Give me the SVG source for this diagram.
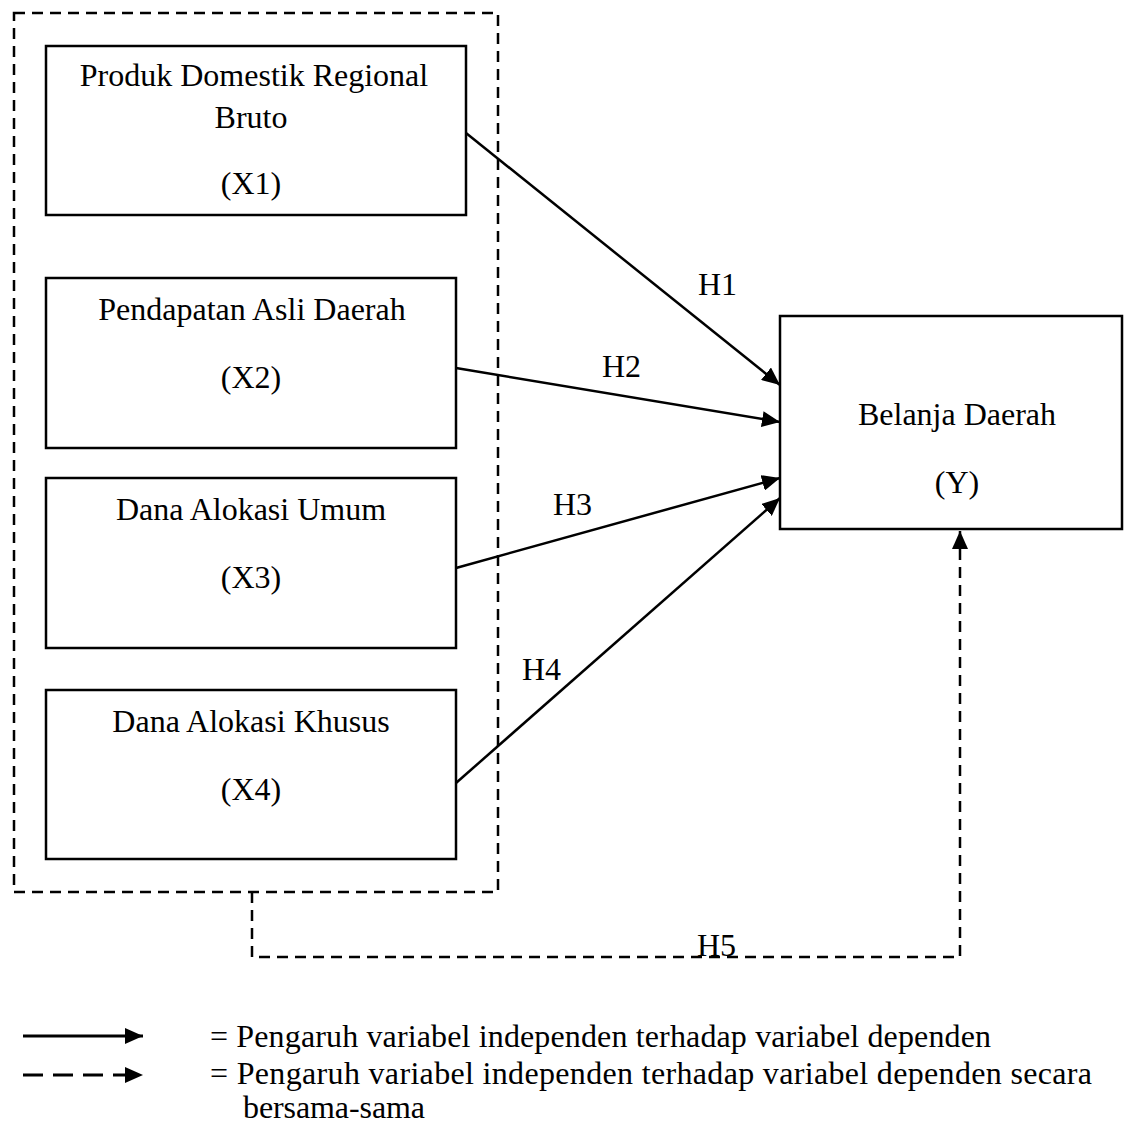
<svg xmlns="http://www.w3.org/2000/svg" width="1124" height="1127" viewBox="0 0 1124 1127">
<style>
.box{fill:#fff;stroke:#000;stroke-width:2.5}
.dash{fill:none;stroke:#000;stroke-width:2.5;stroke-dasharray:11 7}
.ln{fill:none;stroke:#000;stroke-width:2.5}
.lg{fill:none;stroke:#000;stroke-width:3}
text{font-family:"Liberation Serif","Times New Roman",serif;font-size:32px;fill:#000}
.c{text-anchor:middle}
</style>
<defs>
<marker id="ah" markerUnits="userSpaceOnUse" markerWidth="18" markerHeight="16" refX="18" refY="8" orient="auto">
<path d="M0,0 L18,8 L0,16 z" fill="#000"/>
</marker>
</defs>
<rect width="1124" height="1127" fill="#fff"/>
<g id="group-box">
<rect class="dash" x="14" y="13" width="484" height="879"/>
</g>
<g id="x1">
<rect class="box" x="46" y="46" width="420" height="169"/>
<text class="c" x="254" y="86">Produk Domestik Regional</text>
<text class="c" x="251" y="128">Bruto</text>
<text class="c" x="251" y="194">(X1)</text>
</g>
<g id="x2">
<rect class="box" x="46" y="278" width="410" height="170"/>
<text class="c" x="252" y="320">Pendapatan Asli Daerah</text>
<text class="c" x="251" y="388">(X2)</text>
</g>
<g id="x3">
<rect class="box" x="46" y="478" width="410" height="170"/>
<text class="c" x="251" y="520">Dana Alokasi Umum</text>
<text class="c" x="251" y="588">(X3)</text>
</g>
<g id="x4">
<rect class="box" x="46" y="690" width="410" height="169"/>
<text class="c" x="251" y="732">Dana Alokasi Khusus</text>
<text class="c" x="251" y="800">(X4)</text>
</g>
<g id="y">
<rect class="box" x="780" y="316" width="342" height="213"/>
<text class="c" x="957" y="425">Belanja Daerah</text>
<text class="c" x="957" y="493">(Y)</text>
</g>
<g id="connectors">
<line class="ln" x1="466" y1="133" x2="780" y2="385" marker-end="url(#ah)"/>
<line class="ln" x1="456" y1="368" x2="780" y2="422" marker-end="url(#ah)"/>
<line class="ln" x1="456" y1="568" x2="780" y2="478" marker-end="url(#ah)"/>
<line class="ln" x1="456" y1="783" x2="780" y2="498" marker-end="url(#ah)"/>
<path class="dash" d="M252,892 V957 H960 V531" marker-end="url(#ah)"/>
<text x="698" y="295">H1</text>
<text x="602" y="377">H2</text>
<text x="553" y="515">H3</text>
<text x="522" y="680">H4</text>
<text x="697" y="956">H5</text>
</g>
<g id="legend">
<line class="lg" x1="23" y1="1036" x2="143" y2="1036" marker-end="url(#ah)"/>
<line class="lg" x1="23" y1="1075" x2="143" y2="1075" stroke-dasharray="20 10" marker-end="url(#ah)"/>
<text x="210" y="1047" textLength="781">= Pengaruh variabel independen terhadap variabel dependen</text>
<text x="210" y="1084" textLength="882">= Pengaruh variabel independen terhadap variabel dependen secara</text>
<text x="243" y="1118" textLength="182">bersama-sama</text>
</g>
</svg>
